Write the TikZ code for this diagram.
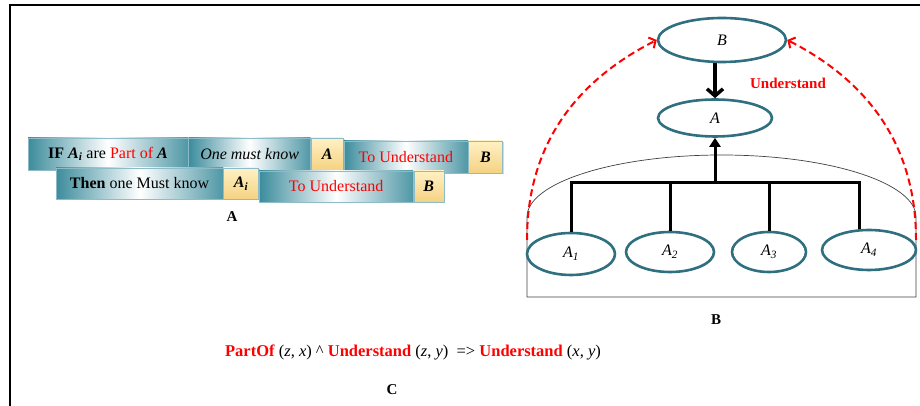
\documentclass[tikz,border=0pt]{standalone}
\usepackage{fontspec}
\setmainfont{Liberation Serif}
\usepackage{tikz}
\usetikzlibrary{shapes.geometric,arrows.meta,positioning,shadows}
\definecolor{tealbox}{HTML}{3C8C9C}
\definecolor{tealline}{HTML}{2F6F7F}
\definecolor{boxedge}{HTML}{8DBBC8}
\definecolor{goldtop}{HTML}{FFF1C4}
\definecolor{goldbot}{HTML}{F5D283}
\newcommand{\bAi}{\textbf{\textit{A\textsubscript{i}}}}

\begin{document}
\begin{tikzpicture}[
    x=1pt, y=1pt,
    font=\fontsize{16}{19}\selectfont,
    node distance=0pt,
    chip/.style={draw=boxedge, line width=0.6pt, inner sep=0pt, minimum height=32pt,
        drop shadow={shadow xshift=1.5pt, shadow yshift=-1.5pt, opacity=0.3}},
    phrase/.style={chip, left color=tealbox, right color=tealbox!90, middle color=white},
    term/.style={chip, top color=goldtop, bottom color=goldbot},
    bubble/.style={ellipse, draw=tealline, line width=2.6pt, fill=white, inner sep=0pt},
    tree/.style={line width=3pt},
    tag/.style={font=\fontsize{15}{18}\selectfont\bfseries}
]
\useasboundingbox (0,0) rectangle (920,406);
\draw[line width=1.6pt] (920,401) -- (10,401) -- (10,0);

% panel A
\node[phrase, minimum width=160pt] (ifpart) at (108,252) {\textbf{IF} \bAi{} are \textcolor{red}{Part of} \textbf{\textit{A}}};
\node[phrase, minimum width=122pt, right=of ifpart] (mustknow) {\textit{One must know}};
\node[term, minimum width=32pt, right=of mustknow] (knowA) {\textbf{\textit{A}}};
\node[phrase, minimum width=124pt, right=of knowA, yshift=-3pt] (underB) {\textcolor{red}{To Understand}};
\node[term, minimum width=34pt, right=of underB] (termB) {\textbf{\textit{B}}};

\node[phrase, minimum width=167pt, minimum height=31pt] (thenknow) at (139.5,222.5) {\textbf{Then} one Must know};
\node[term, minimum width=35pt, minimum height=31pt, right=of thenknow] (knowAi) {\bAi};
\node[phrase, minimum width=154pt, minimum height=31pt, right=of knowAi, yshift=-3pt] (underB2) {\textcolor{red}{To Understand}};
\node[term, minimum width=30pt, minimum height=31pt, right=of underB2] (termB2) {\textbf{\textit{B}}};

\node[tag] (labA) at (232,189) {A};

% panel B
\draw[line width=0.7pt, draw=black!75] (527,189) arc[start angle=180, end angle=0, x radius=194.5, y radius=62]
    -- (916,109) -- (527,109) -- cycle;

\node[bubble, minimum width=128pt, minimum height=44pt] (B) at (722,366) {\textit{B}};
\node[bubble, minimum width=114pt, minimum height=37pt] (A) at (715,288) {\textit{A}};
\node[bubble, minimum width=88pt, minimum height=42pt] (A1) at (571,152) {\textit{A\textsubscript{1}}};
\node[bubble, minimum width=88pt, minimum height=40pt] (A2) at (670,154) {\textit{A\textsubscript{2}}};
\node[bubble, minimum width=74pt, minimum height=40pt] (A3) at (769,154) {\textit{A\textsubscript{3}}};
\node[bubble, minimum width=94pt, minimum height=40pt] (A4) at (869,156) {\textit{A\textsubscript{4}}};

\coordinate (hub) at (715,223);
\draw[tree] (A1.north) |- (hub) -| ([xshift=-10pt]A4.north);
\foreach \n in {A2,A3}
  \draw[tree] (\n.north) -- (\n.north |- hub);
\draw[tree, -{Triangle[length=9pt, width=11pt]}] (hub) -- (A.south);
\draw[line width=3.5pt, -{Straight Barb[length=7pt, width=16pt]}] (B.south -| A.north) -- (A.north);

\node[tag, text=red] (undlbl) at (788,323) {Understand};

\coordinate (lfoot) at (527,166);
\coordinate (rfoot) at (916,166);
\draw[red, line width=2pt, dash pattern=on 7pt off 4pt, -{Straight Barb[length=5pt, width=12pt]}]
    (lfoot) to[out=90, in=207] (B.west);
\draw[red, line width=2pt, dash pattern=on 7pt off 4pt, -{Straight Barb[length=5pt, width=12pt]}]
    (rfoot) to[out=90, in=-27] (B.east);

\node[tag] (labB) at (716,86) {B};

% panel C
\node[font=\fontsize{16.5}{19}\selectfont] (rule) at (413,54) {\textcolor{red}{\textbf{PartOf}} (\textit{z}, \textit{x}) \textasciicircum{} \textcolor{red}{\textbf{Understand}} (\textit{z}, \textit{y})\ \ => \textcolor{red}{\textbf{Understand}} (\textit{x}, \textit{y})};
\node[tag] (labC) at (392,16) {C};
\end{tikzpicture}
\end{document}
